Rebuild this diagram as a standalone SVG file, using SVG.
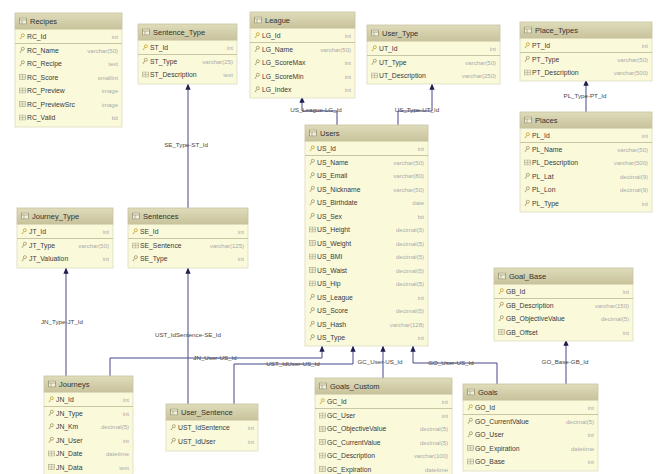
<svg xmlns="http://www.w3.org/2000/svg" width="660" height="474" viewBox="0 0 660 474">
<style>
.hd{fill:url(#hg);stroke:#c8c4a0;stroke-width:0.8}
.bd{fill:#faf9da;stroke:#dedbbd;stroke-width:0.8}
.sep{stroke:#bdb994;stroke-width:0.8}
.tt{font-family:"Liberation Sans",Arial,sans-serif;font-size:7.5px;fill:#333}
.fn{font-family:"Liberation Sans",Arial,sans-serif;font-size:6.8px;fill:#3a3a3a}
.ft{font-family:"Liberation Sans",Arial,sans-serif;font-size:6px;fill:#aaa;text-anchor:end}
.cn{fill:none;stroke:#46468c;stroke-width:1}
.lb{font-family:"Liberation Sans",Arial,sans-serif;font-size:6.2px;fill:#444;text-anchor:middle}
</style>
<defs>
<linearGradient id="hg" x1="0" y1="0" x2="0" y2="1"><stop offset="0" stop-color="#dfdcbb"/><stop offset="1" stop-color="#c8c39b"/></linearGradient>
<marker id="ar" viewBox="0 0 8 8" refX="7.5" refY="4" markerWidth="6" markerHeight="6" orient="auto" markerUnits="userSpaceOnUse"><path d="M0,0.5 L8,4 L0,7.5 Z" fill="#1e1e50"/></marker>
<symbol id="tb" viewBox="0 0 8 7"><rect x="0.5" y="0.5" width="7" height="6" fill="#f2f0dc" stroke="#8f8b6a" stroke-width="0.7"/><path d="M0.5,2.5 H7.5 M3,2.5 V6.5" stroke="#8f8b6a" stroke-width="0.6"/></symbol>
<symbol id="ky" viewBox="0 0 7 8"><circle cx="4.5" cy="2.5" r="1.8" fill="none" stroke="#9c9462" stroke-width="0.9"/><path d="M3.4,3.8 L1,7 M1.6,6.2 L2.6,6.9" stroke="#9c9462" stroke-width="0.9" fill="none"/></symbol>
<symbol id="pk" viewBox="0 0 7 8"><circle cx="4.5" cy="2.5" r="1.8" fill="none" stroke="#c7a332" stroke-width="0.9"/><path d="M3.4,3.8 L1,7 M1.6,6.2 L2.6,6.9" stroke="#c7a332" stroke-width="0.9" fill="none"/></symbol>
<symbol id="cl" viewBox="0 0 8 7"><rect x="0.5" y="0.5" width="7" height="6" fill="#eceacf" stroke="#a9a583" stroke-width="0.7"/><path d="M0.5,3.5 H7.5 M4,0.5 V6.5" stroke="#a9a583" stroke-width="0.5"/></symbol>
</defs>
<rect width="660" height="474" fill="#fff"/>

<g id="connectors">
<path class="cn" d="M188,208 V84" marker-end="url(#ar)"/>
<path class="cn" d="M337,125 V111 H302 V97" marker-end="url(#ar)"/>
<path class="cn" d="M398,125 V111 H432 V84" marker-end="url(#ar)"/>
<path class="cn" d="M586,112 V80" marker-end="url(#ar)"/>
<path class="cn" d="M66,376 V268" marker-end="url(#ar)"/>
<path class="cn" d="M188,404 V268" marker-end="url(#ar)"/>
<path class="cn" d="M110,376 V358 H322 V346" marker-end="url(#ar)"/>
<path class="cn" d="M234,404 V364 H353 V346" marker-end="url(#ar)"/>
<path class="cn" d="M383,378 V346" marker-end="url(#ar)"/>
<path class="cn" d="M497,384 V363 H413 V346" marker-end="url(#ar)"/>
<path class="cn" d="M566,384 V340" marker-end="url(#ar)"/>
<text class="lb" x="186" y="147">SE_Type-ST_Id</text>
<text class="lb" x="316" y="112">US_League-LG_Id</text>
<text class="lb" x="417" y="112">US_Type-UT_Id</text>
<text class="lb" x="585" y="98">PL_Type-PT_Id</text>
<text class="lb" x="62" y="324">JN_Type-JT_Id</text>
<text class="lb" x="188" y="337">UST_IdSentence-SE_Id</text>
<text class="lb" x="215" y="360">JN_User-US_Id</text>
<text class="lb" x="293" y="366">UST_IdUser-US_Id</text>
<text class="lb" x="380" y="364">GC_User-US_Id</text>
<text class="lb" x="451" y="365">GO_User-US_Id</text>
<text class="lb" x="565" y="364">GO_Base-GB_Id</text>
</g>

<g id="Recipes" transform="translate(15,13)">
<rect class="bd" x="0" y="16" width="107" height="98"/>
<rect class="hd" x="0" y="0" width="107" height="16"/>
<use href="#tb" x="4" y="4.5" width="8" height="7"/><text class="tt" x="15" y="11">Recipes</text>
<line class="sep" x1="0" y1="30.5" x2="107" y2="30.5"/>
<use href="#pk" x="4" y="20" width="6" height="7"/><text class="fn" x="12" y="26">RC_Id</text><text class="ft" x="103" y="26">int</text>
<use href="#ky" x="4" y="33.5" width="6" height="7"/><text class="fn" x="12" y="39.5">RC_Name</text><text class="ft" x="103" y="39.5">varchar(50)</text>
<use href="#ky" x="4" y="47" width="6" height="7"/><text class="fn" x="12" y="53">RC_Recipe</text><text class="ft" x="103" y="53">text</text>
<use href="#cl" x="4" y="61" width="7" height="6"/><text class="fn" x="12" y="66.5">RC_Score</text><text class="ft" x="103" y="66.5">smallint</text>
<use href="#cl" x="4" y="74.5" width="7" height="6"/><text class="fn" x="12" y="80">RC_Preview</text><text class="ft" x="103" y="80">image</text>
<use href="#cl" x="4" y="88" width="7" height="6"/><text class="fn" x="12" y="93.5">RC_PreviewSrc</text><text class="ft" x="103" y="93.5">image</text>
<use href="#cl" x="4" y="101.5" width="7" height="6"/><text class="fn" x="12" y="107">RC_Valid</text><text class="ft" x="103" y="107">bit</text>
</g>

<g id="Sentence_Type" transform="translate(138,24)">
<rect class="bd" x="0" y="16" width="99" height="44"/>
<rect class="hd" x="0" y="0" width="99" height="16"/>
<use href="#tb" x="4" y="4.5" width="8" height="7"/><text class="tt" x="15" y="11">Sentence_Type</text>
<line class="sep" x1="0" y1="30.5" x2="99" y2="30.5"/>
<use href="#pk" x="4" y="20" width="6" height="7"/><text class="fn" x="12" y="26">ST_Id</text><text class="ft" x="95" y="26">int</text>
<use href="#ky" x="4" y="33.5" width="6" height="7"/><text class="fn" x="12" y="39.5">ST_Type</text><text class="ft" x="95" y="39.5">varchar(25)</text>
<use href="#cl" x="4" y="47.5" width="7" height="6"/><text class="fn" x="12" y="53">ST_Description</text><text class="ft" x="95" y="53">text</text>
</g>

<g id="League" transform="translate(250,12)">
<rect class="bd" x="0" y="16" width="105" height="70"/>
<rect class="hd" x="0" y="0" width="105" height="16"/>
<use href="#tb" x="4" y="4.5" width="8" height="7"/><text class="tt" x="15" y="11">League</text>
<line class="sep" x1="0" y1="30.5" x2="105" y2="30.5"/>
<use href="#pk" x="4" y="20" width="6" height="7"/><text class="fn" x="12" y="26">LG_Id</text><text class="ft" x="101" y="26">int</text>
<use href="#ky" x="4" y="33.5" width="6" height="7"/><text class="fn" x="12" y="39.5">LG_Name</text><text class="ft" x="101" y="39.5">varchar(50)</text>
<use href="#ky" x="4" y="47" width="6" height="7"/><text class="fn" x="12" y="53">LG_ScoreMax</text><text class="ft" x="101" y="53">int</text>
<use href="#ky" x="4" y="60.5" width="6" height="7"/><text class="fn" x="12" y="66.5">LG_ScoreMin</text><text class="ft" x="101" y="66.5">int</text>
<use href="#ky" x="4" y="74" width="6" height="7"/><text class="fn" x="12" y="80">LG_Index</text><text class="ft" x="101" y="80">int</text>
</g>

<g id="User_Type" transform="translate(367,25)">
<rect class="bd" x="0" y="16" width="133" height="43"/>
<rect class="hd" x="0" y="0" width="133" height="16"/>
<use href="#tb" x="4" y="4.5" width="8" height="7"/><text class="tt" x="15" y="11">User_Type</text>
<line class="sep" x1="0" y1="30.5" x2="133" y2="30.5"/>
<use href="#pk" x="4" y="20" width="6" height="7"/><text class="fn" x="12" y="26">UT_Id</text><text class="ft" x="129" y="26">int</text>
<use href="#ky" x="4" y="33.5" width="6" height="7"/><text class="fn" x="12" y="39.5">UT_Type</text><text class="ft" x="129" y="39.5">varchar(50)</text>
<use href="#cl" x="4" y="47.5" width="7" height="6"/><text class="fn" x="12" y="53">UT_Description</text><text class="ft" x="129" y="53">varchar(250)</text>
</g>

<g id="Place_Types" transform="translate(520,22)">
<rect class="bd" x="0" y="16" width="132" height="43"/>
<rect class="hd" x="0" y="0" width="132" height="16"/>
<use href="#tb" x="4" y="4.5" width="8" height="7"/><text class="tt" x="15" y="11">Place_Types</text>
<line class="sep" x1="0" y1="30.5" x2="132" y2="30.5"/>
<use href="#pk" x="4" y="20" width="6" height="7"/><text class="fn" x="12" y="26">PT_Id</text><text class="ft" x="128" y="26">int</text>
<use href="#ky" x="4" y="33.5" width="6" height="7"/><text class="fn" x="12" y="39.5">PT_Type</text><text class="ft" x="128" y="39.5">varchar(50)</text>
<use href="#cl" x="4" y="47.5" width="7" height="6"/><text class="fn" x="12" y="53">PT_Description</text><text class="ft" x="128" y="53">varchar(500)</text>
</g>

<g id="Places" transform="translate(520,112)">
<rect class="bd" x="0" y="16" width="132" height="84"/>
<rect class="hd" x="0" y="0" width="132" height="16"/>
<use href="#tb" x="4" y="4.5" width="8" height="7"/><text class="tt" x="15" y="11">Places</text>
<line class="sep" x1="0" y1="30.5" x2="132" y2="30.5"/>
<use href="#pk" x="4" y="20" width="6" height="7"/><text class="fn" x="12" y="26">PL_Id</text><text class="ft" x="128" y="26">int</text>
<use href="#ky" x="4" y="33.5" width="6" height="7"/><text class="fn" x="12" y="39.5">PL_Name</text><text class="ft" x="128" y="39.5">varchar(50)</text>
<use href="#cl" x="4" y="47.5" width="7" height="6"/><text class="fn" x="12" y="53">PL_Description</text><text class="ft" x="128" y="53">varchar(500)</text>
<use href="#ky" x="4" y="60.5" width="6" height="7"/><text class="fn" x="12" y="66.5">PL_Lat</text><text class="ft" x="128" y="66.5">decimal(9)</text>
<use href="#ky" x="4" y="74" width="6" height="7"/><text class="fn" x="12" y="80">PL_Lon</text><text class="ft" x="128" y="80">decimal(9)</text>
<use href="#ky" x="4" y="87.5" width="6" height="7"/><text class="fn" x="12" y="93.5">PL_Type</text><text class="ft" x="128" y="93.5">int</text>
</g>

<g id="Users" transform="translate(305,125)">
<rect class="bd" x="0" y="16" width="123" height="205"/>
<rect class="hd" x="0" y="0" width="123" height="16"/>
<use href="#tb" x="4" y="4.5" width="8" height="7"/><text class="tt" x="15" y="11">Users</text>
<line class="sep" x1="0" y1="30.5" x2="123" y2="30.5"/>
<use href="#pk" x="4" y="20" width="6" height="7"/><text class="fn" x="12" y="26">US_Id</text><text class="ft" x="119" y="26">int</text>
<use href="#ky" x="4" y="33.5" width="6" height="7"/><text class="fn" x="12" y="39.5">US_Name</text><text class="ft" x="119" y="39.5">varchar(50)</text>
<use href="#ky" x="4" y="47" width="6" height="7"/><text class="fn" x="12" y="53">US_Email</text><text class="ft" x="119" y="53">varchar(80)</text>
<use href="#ky" x="4" y="60.5" width="6" height="7"/><text class="fn" x="12" y="66.5">US_Nickname</text><text class="ft" x="119" y="66.5">varchar(50)</text>
<use href="#ky" x="4" y="74" width="6" height="7"/><text class="fn" x="12" y="80">US_Birthdate</text><text class="ft" x="119" y="80">date</text>
<use href="#ky" x="4" y="87.5" width="6" height="7"/><text class="fn" x="12" y="93.5">US_Sex</text><text class="ft" x="119" y="93.5">bit</text>
<use href="#cl" x="4" y="101.5" width="7" height="6"/><text class="fn" x="12" y="107">US_Height</text><text class="ft" x="119" y="107">decimal(5)</text>
<use href="#cl" x="4" y="115" width="7" height="6"/><text class="fn" x="12" y="120.5">US_Weight</text><text class="ft" x="119" y="120.5">decimal(5)</text>
<use href="#cl" x="4" y="128.5" width="7" height="6"/><text class="fn" x="12" y="134">US_BMI</text><text class="ft" x="119" y="134">decimal(5)</text>
<use href="#cl" x="4" y="142" width="7" height="6"/><text class="fn" x="12" y="147.5">US_Waist</text><text class="ft" x="119" y="147.5">decimal(5)</text>
<use href="#cl" x="4" y="155.5" width="7" height="6"/><text class="fn" x="12" y="161">US_Hip</text><text class="ft" x="119" y="161">decimal(5)</text>
<use href="#ky" x="4" y="168.5" width="6" height="7"/><text class="fn" x="12" y="174.5">US_League</text><text class="ft" x="119" y="174.5">int</text>
<use href="#ky" x="4" y="182" width="6" height="7"/><text class="fn" x="12" y="188">US_Score</text><text class="ft" x="119" y="188">decimal(5)</text>
<use href="#ky" x="4" y="195.5" width="6" height="7"/><text class="fn" x="12" y="201.5">US_Hash</text><text class="ft" x="119" y="201.5">varchar(128)</text>
<use href="#ky" x="4" y="209" width="6" height="7"/><text class="fn" x="12" y="215">US_Type</text><text class="ft" x="119" y="215">int</text>
</g>

<g id="Journey_Type" transform="translate(17,208)">
<rect class="bd" x="0" y="16" width="96" height="44"/>
<rect class="hd" x="0" y="0" width="96" height="16"/>
<use href="#tb" x="4" y="4.5" width="8" height="7"/><text class="tt" x="15" y="11">Journey_Type</text>
<line class="sep" x1="0" y1="30.5" x2="96" y2="30.5"/>
<use href="#pk" x="4" y="20" width="6" height="7"/><text class="fn" x="12" y="26">JT_Id</text><text class="ft" x="92" y="26">int</text>
<use href="#ky" x="4" y="33.5" width="6" height="7"/><text class="fn" x="12" y="39.5">JT_Type</text><text class="ft" x="92" y="39.5">varchar(50)</text>
<use href="#ky" x="4" y="47" width="6" height="7"/><text class="fn" x="12" y="53">JT_Valuation</text><text class="ft" x="92" y="53">int</text>
</g>

<g id="Sentences" transform="translate(128,208)">
<rect class="bd" x="0" y="16" width="120" height="44"/>
<rect class="hd" x="0" y="0" width="120" height="16"/>
<use href="#tb" x="4" y="4.5" width="8" height="7"/><text class="tt" x="15" y="11">Sentences</text>
<line class="sep" x1="0" y1="30.5" x2="120" y2="30.5"/>
<use href="#pk" x="4" y="20" width="6" height="7"/><text class="fn" x="12" y="26">SE_Id</text><text class="ft" x="116" y="26">int</text>
<use href="#cl" x="4" y="34.5" width="7" height="6"/><text class="fn" x="12" y="39.5">SE_Sentence</text><text class="ft" x="116" y="39.5">varchar(125)</text>
<use href="#ky" x="4" y="47" width="6" height="7"/><text class="fn" x="12" y="53">SE_Type</text><text class="ft" x="116" y="53">int</text>
</g>

<g id="Goal_Base" transform="translate(494,268)">
<rect class="bd" x="0" y="16" width="139" height="57"/>
<rect class="hd" x="0" y="0" width="139" height="16"/>
<use href="#tb" x="4" y="4.5" width="8" height="7"/><text class="tt" x="15" y="11">Goal_Base</text>
<line class="sep" x1="0" y1="30.5" x2="139" y2="30.5"/>
<use href="#pk" x="4" y="20" width="6" height="7"/><text class="fn" x="12" y="26">GB_Id</text><text class="ft" x="135" y="26">int</text>
<use href="#ky" x="4" y="33.5" width="6" height="7"/><text class="fn" x="12" y="39.5">GB_Description</text><text class="ft" x="135" y="39.5">varchar(150)</text>
<use href="#ky" x="4" y="47" width="6" height="7"/><text class="fn" x="12" y="53">GB_ObjectiveValue</text><text class="ft" x="135" y="53">decimal(5)</text>
<use href="#cl" x="4" y="61" width="7" height="6"/><text class="fn" x="12" y="66.5">GB_Offset</text><text class="ft" x="135" y="66.5">int</text>
</g>

<g id="Journeys" transform="translate(44,376)">
<rect class="bd" x="0" y="16" width="89" height="84"/>
<rect class="hd" x="0" y="0" width="89" height="16"/>
<use href="#tb" x="4" y="4.5" width="8" height="7"/><text class="tt" x="15" y="11">Journeys</text>
<line class="sep" x1="0" y1="30.5" x2="89" y2="30.5"/>
<use href="#pk" x="4" y="20" width="6" height="7"/><text class="fn" x="12" y="26">JN_Id</text><text class="ft" x="85" y="26">int</text>
<use href="#ky" x="4" y="33.5" width="6" height="7"/><text class="fn" x="12" y="39.5">JN_Type</text><text class="ft" x="85" y="39.5">int</text>
<use href="#ky" x="4" y="47" width="6" height="7"/><text class="fn" x="12" y="53">JN_Km</text><text class="ft" x="85" y="53">decimal(5)</text>
<use href="#ky" x="4" y="60.5" width="6" height="7"/><text class="fn" x="12" y="66.5">JN_User</text><text class="ft" x="85" y="66.5">int</text>
<use href="#cl" x="4" y="74.5" width="7" height="6"/><text class="fn" x="12" y="80">JN_Date</text><text class="ft" x="85" y="80">datetime</text>
<use href="#cl" x="4" y="88" width="7" height="6"/><text class="fn" x="12" y="93.5">JN_Data</text><text class="ft" x="85" y="93.5">text</text>
</g>

<g id="User_Sentence" transform="translate(166,404)">
<rect class="bd" x="0" y="16" width="92" height="31"/>
<rect class="hd" x="0" y="0" width="92" height="16"/>
<use href="#tb" x="4" y="4.5" width="8" height="7"/><text class="tt" x="15" y="11">User_Sentence</text>
<use href="#ky" x="4" y="20" width="6" height="7"/><text class="fn" x="12" y="26">UST_IdSentence</text><text class="ft" x="88" y="26">int</text>
<use href="#ky" x="4" y="33.5" width="6" height="7"/><text class="fn" x="12" y="39.5">UST_IdUser</text><text class="ft" x="88" y="39.5">int</text>
</g>

<g id="Goals_Custom" transform="translate(315,378)">
<rect class="bd" x="0" y="16" width="137" height="84"/>
<rect class="hd" x="0" y="0" width="137" height="16"/>
<use href="#tb" x="4" y="4.5" width="8" height="7"/><text class="tt" x="15" y="11">Goals_Custom</text>
<line class="sep" x1="0" y1="30.5" x2="137" y2="30.5"/>
<use href="#pk" x="4" y="20" width="6" height="7"/><text class="fn" x="12" y="26">GC_Id</text><text class="ft" x="133" y="26">int</text>
<use href="#cl" x="4" y="34.5" width="7" height="6"/><text class="fn" x="12" y="39.5">GC_User</text><text class="ft" x="133" y="39.5">int</text>
<use href="#cl" x="4" y="48" width="7" height="6"/><text class="fn" x="12" y="53">GC_ObjectiveValue</text><text class="ft" x="133" y="53">decimal(5)</text>
<use href="#cl" x="4" y="61" width="7" height="6"/><text class="fn" x="12" y="66.5">GC_CurrentValue</text><text class="ft" x="133" y="66.5">decimal(5)</text>
<use href="#cl" x="4" y="74.5" width="7" height="6"/><text class="fn" x="12" y="80">GC_Description</text><text class="ft" x="133" y="80">varchar(100)</text>
<use href="#cl" x="4" y="88" width="7" height="6"/><text class="fn" x="12" y="93.5">GC_Expiration</text><text class="ft" x="133" y="93.5">datetime</text>
</g>

<g id="Goals" transform="translate(463,384)">
<rect class="bd" x="0" y="16" width="135" height="71"/>
<rect class="hd" x="0" y="0" width="135" height="16"/>
<use href="#tb" x="4" y="4.5" width="8" height="7"/><text class="tt" x="15" y="11">Goals</text>
<line class="sep" x1="0" y1="30.5" x2="135" y2="30.5"/>
<use href="#pk" x="4" y="20" width="6" height="7"/><text class="fn" x="12" y="26">GO_Id</text><text class="ft" x="131" y="26">int</text>
<use href="#ky" x="4" y="33.5" width="6" height="7"/><text class="fn" x="12" y="39.5">GO_CurrentValue</text><text class="ft" x="131" y="39.5">decimal(5)</text>
<use href="#ky" x="4" y="47" width="6" height="7"/><text class="fn" x="12" y="53">GO_User</text><text class="ft" x="131" y="53">int</text>
<use href="#cl" x="4" y="61" width="7" height="6"/><text class="fn" x="12" y="66.5">GO_Expiration</text><text class="ft" x="131" y="66.5">datetime</text>
<use href="#cl" x="4" y="74.5" width="7" height="6"/><text class="fn" x="12" y="80">GO_Base</text><text class="ft" x="131" y="80">int</text>
</g>
</svg>
